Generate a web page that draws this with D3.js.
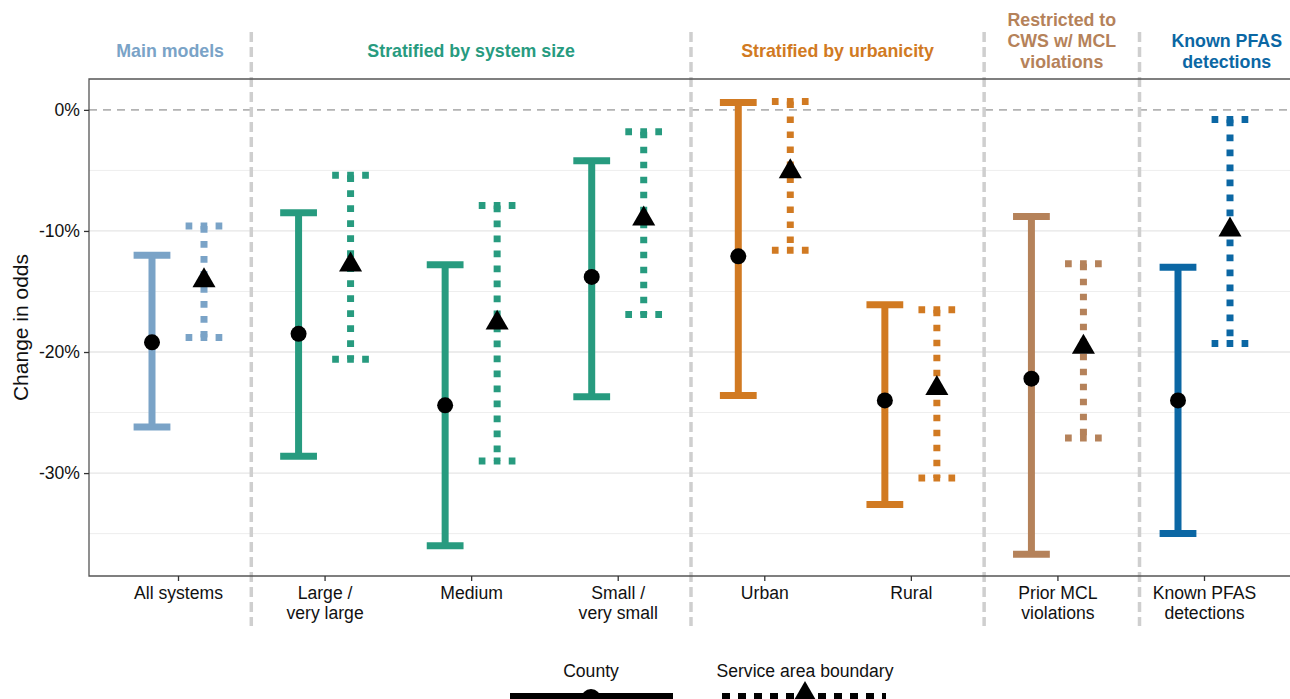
<!DOCTYPE html>
<html>
<head>
<meta charset="utf-8">
<script src="https://cdn.jsdelivr.net/npm/d3@7"></script>
<style>
  body { margin: 0; background: #fff; }
  text { font-family: "Liberation Sans", Arial, Helvetica, sans-serif; }
</style>
</head>
<body>
<div id="chart"></div>
<script>
// categories (x axis), one per estimate pair
const categories = [
  ["All systems"],
  ["Large /", "very large"],
  ["Medium"],
  ["Small /", "very small"],
  ["Urban"],
  ["Rural"],
  ["Prior MCL", "violations"],
  ["Known PFAS", "detections"]
]
const groupOf = [0, 1, 1, 1, 2, 2, 3, 4]

// county estimates (% change in odds)
const countyEst = [-19.2, -18.5, -24.4, -13.8, -12.1, -24.0, -22.2, -24.0]
const countyLow = [-26.2, -28.6, -36.0, -23.7, -23.6, -32.6, -36.7, -35.0]
const countyHigh = [-12.0, -8.5, -12.8, -4.2, 0.6, -16.1, -8.8, -13.0]

// service area boundary estimates
const serviceEst = [-14.1, -12.8, -17.6, -9.0, -5.1, -23.0, -19.6, -9.9]
const serviceLow = [-18.8, -20.6, -29.0, -16.9, -11.6, -30.4, -27.1, -19.3]
const serviceHigh = [-9.6, -5.4, -7.9, -1.8, 0.7, -16.5, -12.7, -0.8]

// facet headers
const groupTitles = [
  ["Main models"],
  ["Stratified by system size"],
  ["Stratified by urbanicity"],
  ["Restricted to", "CWS w/ MCL", "violations"],
  ["Known PFAS", "detections"]
]
const groupColors = ["#7aa3c7", "#279b7f", "#d17a22", "#b5825a", "#0b67a4"]

const yTicks = [0, -10, -20, -30]
const yMinor = [-5, -15, -25, -35]

const W = 1290, H = 699
const PANEL = {TOP: 79, BOTTOM: 576, LEFT: 89, RIGHT: 1300}
const FONT = 17.6

const svg = d3.select("#chart").append("svg")
  .attr("width", W).attr("height", H)

// scales
const x = d3.scaleLinear().domain([0, 7]).range([178, 1204])
const y = d3.scaleLinear().domain([2.55, -38.5]).range([PANEL.TOP, PANEL.BOTTOM])

// where the dashed separators sit, in category units
const seps = [0.5, 3.5, 5.5, 6.56]
const bounds = [x.invert(PANEL.LEFT), ...seps, 7.75]

// grid
svg.selectAll(".minor").data(yMinor).enter().append("line")
  .attr("x1", PANEL.LEFT).attr("x2", PANEL.RIGHT)
  .attr("y1", d => y(d)).attr("y2", d => y(d))
  .attr("stroke", "#eeeeee").attr("stroke-width", 1)
svg.selectAll(".major").data(yTicks.filter(d => d !== 0)).enter().append("line")
  .attr("x1", PANEL.LEFT).attr("x2", PANEL.RIGHT)
  .attr("y1", d => y(d)).attr("y2", d => y(d))
  .attr("stroke", "#e6e6e6").attr("stroke-width", 1.3)

// 0% reference
svg.append("line")
  .attr("x1", PANEL.LEFT).attr("x2", PANEL.RIGHT)
  .attr("y1", y(0)).attr("y2", y(0))
  .attr("stroke", "#b3b3b3").attr("stroke-width", 1.6)
  .attr("stroke-dasharray", "8 6")

// separators
svg.selectAll(".sep").data(seps).enter().append("line")
  .attr("x1", d => x(d)).attr("x2", d => x(d))
  .attr("y1", 32).attr("y2", 626)
  .attr("stroke", "#cfcfcf").attr("stroke-width", 3.5)
  .attr("stroke-dasharray", "10 5")

// panel border
svg.append("path")
  .attr("d", `M${PANEL.RIGHT},${PANEL.TOP}H${PANEL.LEFT}V${PANEL.BOTTOM}H${PANEL.RIGHT}`)
  .attr("fill", "none").attr("stroke", "#555").attr("stroke-width", 1.3)

// y axis
const yAxis = svg.append("g")
  .attr("transform", `translate(${PANEL.LEFT},0)`)
  .call(d3.axisLeft(y).tickValues(yTicks).tickSize(5).tickPadding(4).tickFormat(d => d + "%"))
yAxis.select(".domain").remove()
yAxis.selectAll("line").attr("stroke", "#333").attr("stroke-width", 1.3)
yAxis.selectAll("text").attr("font-size", FONT).attr("fill", "#111")
  .style("font-family", '"Liberation Sans", Arial, sans-serif')

svg.append("text")
  .attr("transform", `translate(28,${(PANEL.TOP + PANEL.BOTTOM) / 2}) rotate(-90)`)
  .attr("text-anchor", "middle").attr("font-size", 21).attr("fill", "#111")
  .text("Change in odds")

// x axis
const xAxis = svg.append("g")
  .attr("transform", `translate(0,${PANEL.BOTTOM})`)
  .call(d3.axisBottom(x).tickValues(d3.range(categories.length)).tickSize(5).tickFormat(""))
xAxis.select(".domain").remove()
xAxis.selectAll("line").attr("stroke", "#333").attr("stroke-width", 1.3)
xAxis.selectAll(".tick").append("text")
  .attr("text-anchor", "middle").attr("font-size", FONT).attr("fill", "#111")
  .style("font-family", '"Liberation Sans", Arial, sans-serif')
  .selectAll("tspan").data(i => categories[i]).enter().append("tspan")
  .attr("x", 0).attr("y", (d, j) => 23 + j * 20)
  .text(d => d)

// facet headers; first-line centre depends on how many lines there are
const headerTop = {1: 51, 2: 41, 3: 20}
groupTitles.forEach((lines, g) => {
  const cx = x((bounds[g] + bounds[g + 1]) / 2)
  const t = svg.append("text")
    .attr("text-anchor", "middle").attr("font-size", 17.8).attr("font-weight", "bold")
    .attr("fill", groupColors[g])
  lines.forEach((l, j) => {
    t.append("tspan").attr("x", cx)
      .attr("y", headerTop[lines.length] + 6 + j * 21)
      .text(l)
  })
})

// error bars
const OFF = 26, CAP = 18.4
const bars = d3.range(categories.length).flatMap(i => [
  {i, dx: -OFF, lo: countyLow[i], hi: countyHigh[i], est: countyEst[i], kind: "county"},
  {i, dx: OFF, lo: serviceLow[i], hi: serviceHigh[i], est: serviceEst[i], kind: "service"}
])

const bar = svg.selectAll(".bar").data(bars).enter().append("g")
  .attr("transform", d => `translate(${x(d.i) + d.dx},0)`)
  .attr("stroke", d => groupColors[groupOf[d.i]])
  .attr("stroke-width", 7)
  .attr("fill", "none")

bar.append("line")
  .attr("x1", 0).attr("x2", 0)
  .attr("y1", d => y(d.hi)).attr("y2", d => y(d.lo))
  .attr("stroke-dasharray", d => d.kind === "service" ? "6.7 8.3" : null)
bar.selectAll(".cap").data(d => [{d, v: d.hi}, {d, v: d.lo}]).enter().append("line")
  .attr("x1", -CAP).attr("x2", CAP)
  .attr("y1", c => y(c.v)).attr("y2", c => y(c.v))
  .attr("stroke-dasharray", c => c.d.kind === "service" ? "6.7 8.3" : null)

// point estimates
const tri = d3.symbol().type(d3.symbolTriangle).size(230)
svg.selectAll(".pt").data(bars).enter().append("path")
  .attr("transform", d => `translate(${x(d.i) + d.dx},${y(d.est)})`)
  .attr("d", d => d.kind === "county" ? d3.symbol().type(d3.symbolCircle).size(Math.PI * 64)() : tri())
  .attr("fill", "#000")

// legend
const legend = [
  {label: "County", cx: 591, x1: 510, x2: 673, kind: "county"},
  {label: "Service area boundary", cx: 805, x1: 722, x2: 886, kind: "service"}
]
const lg = svg.selectAll(".lg").data(legend).enter().append("g")
lg.append("text")
  .attr("x", d => d.cx).attr("y", 677)
  .attr("text-anchor", "middle").attr("font-size", FONT).attr("fill", "#111")
  .text(d => d.label)
lg.append("line")
  .attr("x1", d => d.x1).attr("x2", d => d.x2)
  .attr("y1", 700).attr("y2", 700)
  .attr("stroke", "#000").attr("stroke-width", 14)
  .attr("stroke-dasharray", d => d.kind === "service" ? "8 8" : null)
lg.append("path")
  .attr("transform", d => `translate(${d.cx},${d.kind === "county" ? 699 : 697})`)
  .attr("d", d => d.kind === "county" ? d3.symbol().type(d3.symbolCircle).size(Math.PI * 100)() : d3.symbol().type(d3.symbolTriangle).size(330)())
  .attr("fill", "#000")
</script>
</body>
</html>
